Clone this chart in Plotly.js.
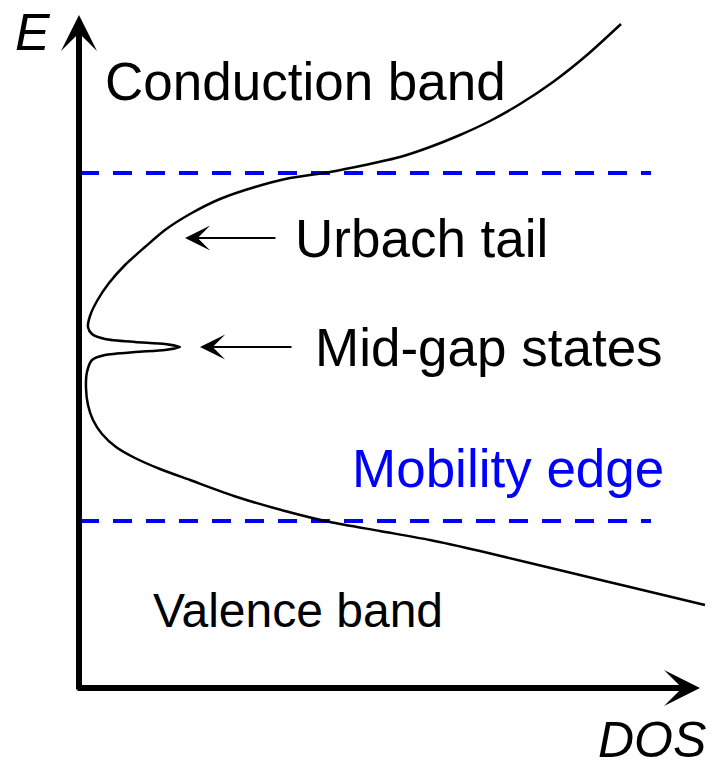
<!DOCTYPE html>
<html>
<head>
<meta charset="utf-8">
<script src="https://cdn.plot.ly/plotly-3.0.1.min.js"></script>
<style>
  html, body { margin: 0; padding: 0; background: #fff; }
  #chart { width: 720px; height: 768px; }
</style>
</head>
<body>
<div id="chart"></div>
<script>
// Density of states of an amorphous semiconductor (arbitrary units):
// DOS on the horizontal axis, energy on the vertical axis.
const dos = [5.42, 5.08, 4.74, 4.41, 4.11, 3.81, 3.51, 3.21, 2.86, 2.51, 2.11, 1.76, 1.41, 1.11,
             0.86, 0.66, 0.46, 0.30, 0.18, 0.11, 0.09, 0.13, 0.26, 0.56, 0.86, 1.01, 0.86, 0.56,
             0.26, 0.13, 0.08, 0.07, 0.09, 0.14, 0.23, 0.37, 0.56, 0.81, 1.11, 1.58, 2.06, 2.51,
             3.01, 3.51, 4.01, 4.51, 5.01, 5.51, 6.26];
const energy = [6.64, 6.33, 6.06, 5.84, 5.67, 5.53, 5.41, 5.31, 5.23, 5.16, 5.10, 5.01, 4.89, 4.74,
                4.58, 4.41, 4.23, 4.05, 3.87, 3.72, 3.61, 3.54, 3.49, 3.46, 3.44, 3.41, 3.38, 3.36,
                3.33, 3.28, 3.16, 3.00, 2.83, 2.68, 2.54, 2.41, 2.30, 2.19, 2.08, 1.91, 1.77, 1.66,
                1.57, 1.48, 1.37, 1.25, 1.13, 1.01, 0.83];

// Mobility edges (energies) and the DOS span of the dashed markers
const mobilityEdges = [5.15, 1.67];
const edgeSpan = [0.01, 5.72];

// Axis extents
const dosMax = 6.21;
const energyMax = 6.73;

// Text labels
const labels = {
  conduction: "Conduction band",
  valence: "Valence band",
  urbach: "Urbach tail",
  midgap: "Mid-gap states",
  mobility: "Mobility edge",
  eAxis: "E",
  dosAxis: "DOS"
};
// Marked features: Urbach tail and the mid-gap peak
const urbachPoint = [1.06, 4.50];
const midgapPoint = [dos[25] + 0.20, energy[25]];

const FONT = "Liberation Sans, Arial, Helvetica, sans-serif";

const traces = [];
mobilityEdges.forEach(e => {
  traces.push({
    x: edgeSpan, y: [e, e], mode: "lines", type: "scatter",
    line: { color: "#0000ff", width: 4, dash: "19px,14px" },
    hoverinfo: "skip", showlegend: false
  });
});
traces.push({
  x: dos, y: energy, mode: "lines", type: "scatter",
  line: { color: "#000000", width: 2.5, shape: "spline", smoothing: 0.7 },
  hoverinfo: "skip", showlegend: false
});

function text(t, x, y, size, color, italic, anchor) {
  return {
    text: t, x: x, y: y, xref: "x", yref: "y", showarrow: false,
    xanchor: anchor || "left", yanchor: "middle",
    font: { family: FONT, size: size, color: color || "#000", style: italic ? "italic" : "normal" }
  };
}
function arrow(x, y, ax, ay, width, size) {
  return {
    x: x, y: y, ax: ax, ay: ay, xref: "x", yref: "y", axref: "x", ayref: "y",
    text: "", showarrow: true, arrowhead: 3, arrowsize: size, arrowwidth: width,
    arrowcolor: "#000", standoff: 0, startstandoff: 0
  };
}

const annotations = [
  // axes
  arrow(0, energyMax, 0, -0.03, 6, 1),
  arrow(dosMax, 0, -0.03, 0, 6, 1),
  // pointers
  arrow(urbachPoint[0], urbachPoint[1], 1.98, urbachPoint[1], 2, 2.1),
  arrow(midgapPoint[0], midgapPoint[1], 2.14, midgapPoint[1], 2, 2.1),
  // labels
  text(labels.conduction, 0.24, 6.07, 53),
  text(labels.urbach, 2.14, 4.50, 53),
  text(labels.midgap, 2.34, 3.41, 53),
  text(labels.mobility, 2.71, 2.20, 53, "#0000ff"),
  text(labels.valence, 0.72, 0.78, 48),
  text(labels.eAxis, -0.66, 6.56, 52, "#000", true),
  text(labels.dosAxis, 6.29, -0.52, 50, "#000", true, "right")
];

const hidden = { visible: false, showgrid: false, zeroline: false, fixedrange: true };
const layout = {
  width: 720, height: 768, autosize: false,
  margin: { l: 0, r: 0, t: 0, b: 0, pad: 0 },
  paper_bgcolor: "#ffffff", plot_bgcolor: "#ffffff",
  xaxis: Object.assign({ range: [-0.79, 6.41] }, hidden),
  yaxis: Object.assign({ range: [-0.80, 6.88] }, hidden),
  annotations: annotations,
  showlegend: false
};

Plotly.newPlot("chart", traces, layout, { displayModeBar: false, staticPlot: true });
</script>
</body>
</html>
